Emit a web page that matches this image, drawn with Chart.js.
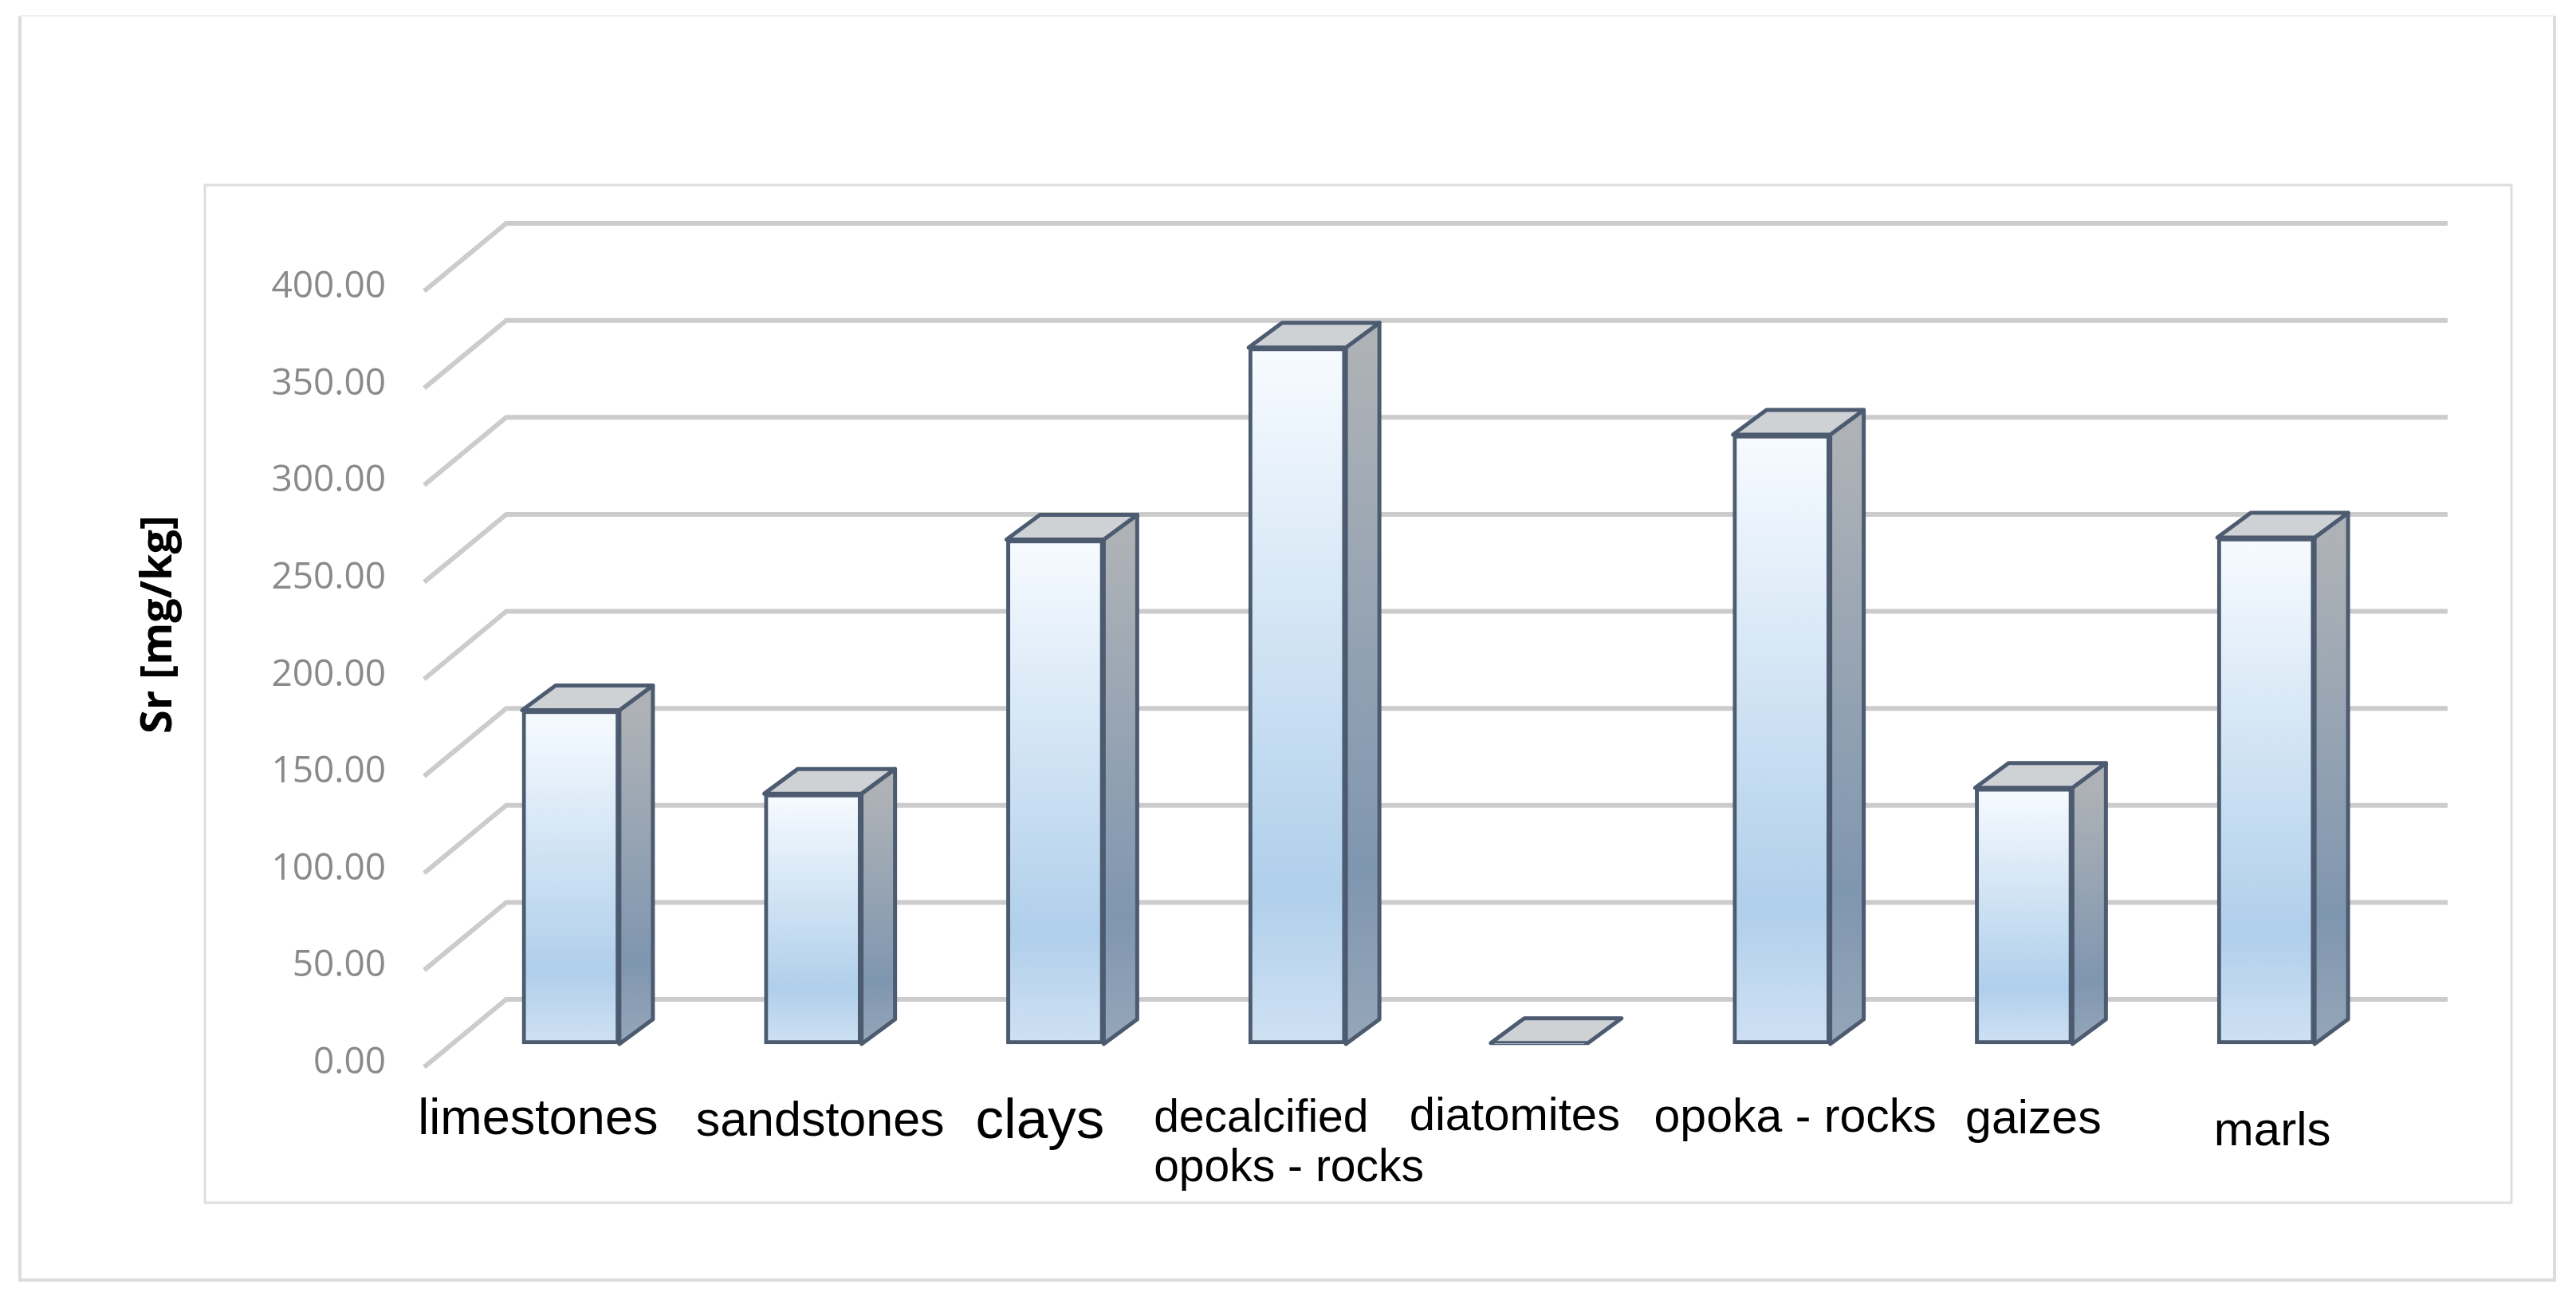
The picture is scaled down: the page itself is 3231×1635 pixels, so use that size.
<!DOCTYPE html>
<html>
<head>
<meta charset="utf-8">
<title>Sr [mg/kg]</title>
<script src="https://cdn.jsdelivr.net/npm/chart.js@4"></script>
<style>
html, body { margin: 0; padding: 0; background: #fff; }
#chart-container { position: relative; width: 3231px; height: 1635px; }
canvas { display: block; }
</style>
</head>
<body>
<div id="chart-container"><canvas id="chart" width="3231" height="1635"></canvas></div>
<script>
const categories = ['limestones', 'sandstones', 'clays', 'decalcified opoks - rocks', 'diatomites', 'opoka - rocks', 'gaizes', 'marls'];
const srValues = [172, 129, 260, 359, 0.5, 314, 132, 261];
const tickValues = [0, 50, 100, 150, 200, 250, 300, 350, 400];
const axisTitle = 'Sr [mg/kg]';

// hand placed category labels, the source has them pasted on top of the chart
const labelStyles = [
    { lines: ['limestones'], size: 63, dx: -41, y: 1405 },
    { lines: ['sandstones'], size: 61, dx: 9, y: 1407 },
    { lines: ['clays'], size: 71, dx: -19, y: 1407 },
    { lines: ['decalcified', 'opoks - rocks'], size: 57, dx: -180, y: 1403, left: true },
    { lines: ['diatomites'], size: 58, dx: -31, y: 1401 },
    { lines: ['opoka - rocks'], size: 59, dx: 17, y: 1403 },
    { lines: ['gaizes'], size: 59, dx: 12, y: 1405 },
    { lines: ['marls'], size: 60, dx: 8, y: 1419 }
];

const BACK_DX = 71, BACK_DY = 80;      // front axis -> back wall
const DIAG_DX = 103, DIAG_DY = 85;     // back wall -> front end of the floor lines
const BAR_DX = 42, BAR_DY = 31;        // depth of a bar
const OUTLINE = '#4d5b70';

function barGradient(ctx, top, bottom, stops) {
    const g = ctx.createLinearGradient(0, top, 0, bottom);
    stops.forEach(s => g.addColorStop(s[0], s[1]));
    return g;
}

const framePlugin = {
    id: 'frames',
    beforeDraw(chart) {
        const ctx = chart.ctx;
        ctx.save();
        ctx.fillStyle = '#fff';
        ctx.fillRect(0, 0, chart.width, chart.height);
        ctx.strokeStyle = '#dcdcdc';
        ctx.lineWidth = 4;
        ctx.beginPath();
        ctx.moveTo(25, 20); ctx.lineTo(25, 1605); ctx.lineTo(3204, 1605); ctx.lineTo(3204, 20);
        ctx.stroke();
        ctx.strokeStyle = '#f0f0f0';
        ctx.lineWidth = 2;
        ctx.beginPath(); ctx.moveTo(25, 20); ctx.lineTo(3204, 20); ctx.stroke();
        ctx.strokeStyle = '#dedede';
        ctx.lineWidth = 3;
        ctx.strokeRect(257, 232, 2893, 1276);
        ctx.restore();
    }
};

const wallPlugin = {
    id: 'wall',
    beforeDatasetsDraw(chart) {
        const ctx = chart.ctx, y = chart.scales.y, x = chart.scales.x;
        ctx.save();
        ctx.strokeStyle = '#cccccc';
        ctx.lineWidth = 6;
        ctx.lineJoin = 'miter';
        tickValues.forEach(v => {
            const py = y.getPixelForValue(v) - BACK_DY;
            const px = x.left + BACK_DX;
            ctx.beginPath();
            ctx.moveTo(px - DIAG_DX, py + DIAG_DY);
            ctx.lineTo(px, py);
            ctx.lineTo(x.right + 76, py);
            ctx.stroke();
        });
        // side and top faces of the bars
        chart.getDatasetMeta(0).data.forEach(bar => {
            const p = bar.getProps(['x', 'y', 'base', 'width'], true);
            const l = p.x - p.width / 2, r = p.x + p.width / 2;
            ctx.lineWidth = 5;
            ctx.strokeStyle = OUTLINE;
            ctx.lineJoin = 'round';
            if (p.base - p.y > 4) {
                ctx.fillStyle = barGradient(ctx, p.y, p.base, [[0, '#aeb2b6'], [0.75, '#7f96b0'], [1, '#95a6b8']]);
                ctx.beginPath();
                ctx.moveTo(r, p.y);
                ctx.lineTo(r + BAR_DX, p.y - BAR_DY);
                ctx.lineTo(r + BAR_DX, p.base - BAR_DY);
                ctx.lineTo(r, p.base);
                ctx.closePath();
                ctx.fill();
                ctx.stroke();
            }
            ctx.fillStyle = '#cfd2d5';
            ctx.beginPath();
            ctx.moveTo(l, p.y);
            ctx.lineTo(l + BAR_DX, p.y - BAR_DY);
            ctx.lineTo(r + BAR_DX, p.y - BAR_DY);
            ctx.lineTo(r, p.y);
            ctx.closePath();
            ctx.fill();
            ctx.stroke();
        });
        ctx.restore();
    }
};

const labelPlugin = {
    id: 'placedLabels',
    afterDraw(chart) {
        const ctx = chart.ctx, x = chart.scales.x;
        ctx.save();
        ctx.fillStyle = '#000';
        ctx.textBaseline = 'middle';
        labelStyles.forEach((s, i) => {
            ctx.font = s.size + 'px "Liberation Sans"';
            ctx.textAlign = s.left ? 'left' : 'center';
            s.lines.forEach((line, k) => {
                ctx.fillText(line, x.getPixelForValue(i) + s.dx, s.y + k * 62);
            });
        });
        ctx.translate(200, 783);
        ctx.rotate(-Math.PI / 2);
        ctx.textAlign = 'center';
        ctx.font = 'bold 54px "Open Sans"';
        ctx.fillText(axisTitle, 0, 0);
        ctx.restore();
    }
};

const chart = document.getElementById('chart').getContext('2d');
const myChart = new Chart(chart, {
    type: 'bar',
    data: {
        labels: categories,
        datasets: [{
            label: axisTitle,
            data: srValues,
            yAxisID: 'yBars',
            barThickness: 122,
            borderColor: OUTLINE,
            borderWidth: 5,
            borderSkipped: false,
            backgroundColor(c) {
                const s = c.chart.scales.yBars;
                if (!s || !c.parsed) return '#b0cfeb';
                const top = s.getPixelForValue(c.parsed.y), bottom = s.getPixelForValue(0);
                if (!Number.isFinite(top) || !Number.isFinite(bottom)) return '#b0cfeb';
                return barGradient(c.chart.ctx, top, bottom, [[0, '#f7fbff'], [0.78, '#b0cfeb'], [1, '#cfe1f3']]);
            }
        }]
    },
    options: {
        responsive: false,
        animation: false,
        layout: { padding: { left: 300, right: 237, top: 360, bottom: 294 } },
        plugins: { legend: { display: false }, tooltip: { enabled: false } },
        scales: {
            x: {
                grid: { display: false },
                border: { display: false },
                ticks: { display: false }
            },
            y: {
                min: 0,
                max: 400,
                afterBuildTicks(scale) { scale.ticks = tickValues.map(v => ({ value: v })); },
                afterFit(scale) { scale.width = 264; },
                grid: { display: false },
                border: { display: false },
                ticks: {
                    color: '#8a8a8a',
                    padding: 72,
                    font: { family: '"Open Sans"', size: 46 },
                    callback: v => v.toFixed(2)
                }
            },
            yBars: {
                display: false,
                min: -9.9,
                max: 390.1
            }
        }
    },
    plugins: [framePlugin, wallPlugin, labelPlugin]
});
</script>
</body>
</html>
